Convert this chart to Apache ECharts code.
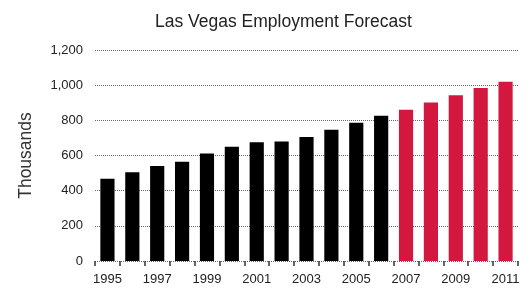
<!DOCTYPE html>
<html>
<head>
<meta charset="utf-8">
<script src="https://cdn.jsdelivr.net/npm/echarts@6/dist/echarts.min.js"></script>
<style>
  html, body { margin: 0; padding: 0; background: #fff; }
  #chart { width: 529px; height: 290px; }
</style>
</head>
<body>
<div id="chart"></div>
<script>
// Las Vegas employment, thousands (actual to 2006, forecast 2007+)
var years = ['1995', '1996', '1997', '1998', '1999', '2000', '2001', '2002', '2003',
             '2004', '2005', '2006', '2007', '2008', '2009', '2010', '2011'];
var employment = [468, 505, 540, 565, 612, 650, 675, 680, 705, 746, 786, 826,
                  860, 902, 942, 984, 1020];
var firstForecastYear = '2007';

var fontFamily = '"Liberation Sans", Arial, sans-serif';
var forecastIdx = years.indexOf(firstForecastYear);

var myChart = echarts.init(document.getElementById('chart'));
myChart.setOption({
    backgroundColor: '#fff',
    animation: false,
    title: {
        text: 'Las Vegas Employment Forecast',
        left: 150,
        top: 8,
        textStyle: {
            color: '#222',
            fontSize: 17.5,
            fontWeight: 'normal',
            fontFamily: fontFamily
        }
    },
    grid: {
        left: 95,
        right: 11,
        top: 50,
        bottom: 29
    },
    xAxis: {
        type: 'category',
        data: years,
        axisLine: { show: false },
        axisTick: {
            show: true,
            interval: 0,
            length: 5,
            lineStyle: { color: '#333', width: 1.5 }
        },
        axisLabel: {
            interval: 1,
            margin: 12,
            color: '#222',
            fontSize: 13,
            fontFamily: fontFamily
        }
    },
    yAxis: {
        type: 'value',
        min: 0,
        max: 1200,
        interval: 200,
        name: 'Thousands',
        nameLocation: 'middle',
        nameGap: 60,
        nameRotate: 90,
        nameTextStyle: {
            color: '#333',
            fontSize: 17.5,
            fontFamily: fontFamily
        },
        axisLine: { show: false },
        axisTick: { show: false },
        axisLabel: {
            margin: 12,
            color: '#222',
            fontSize: 13,
            fontFamily: fontFamily,
            formatter: function (v) {
                return v.toLocaleString('en-US');
            }
        },
        splitLine: {
            lineStyle: { color: '#666', type: 'dotted', width: 1 }
        }
    },
    series: [
        {
            type: 'bar',
            barWidth: '57%',
            data: employment.map(function (v, i) {
                return {
                    value: v,
                    itemStyle: { color: i >= forecastIdx ? '#d4173f' : '#000' }
                };
            })
        }
    ]
});
</script>
</body>
</html>
